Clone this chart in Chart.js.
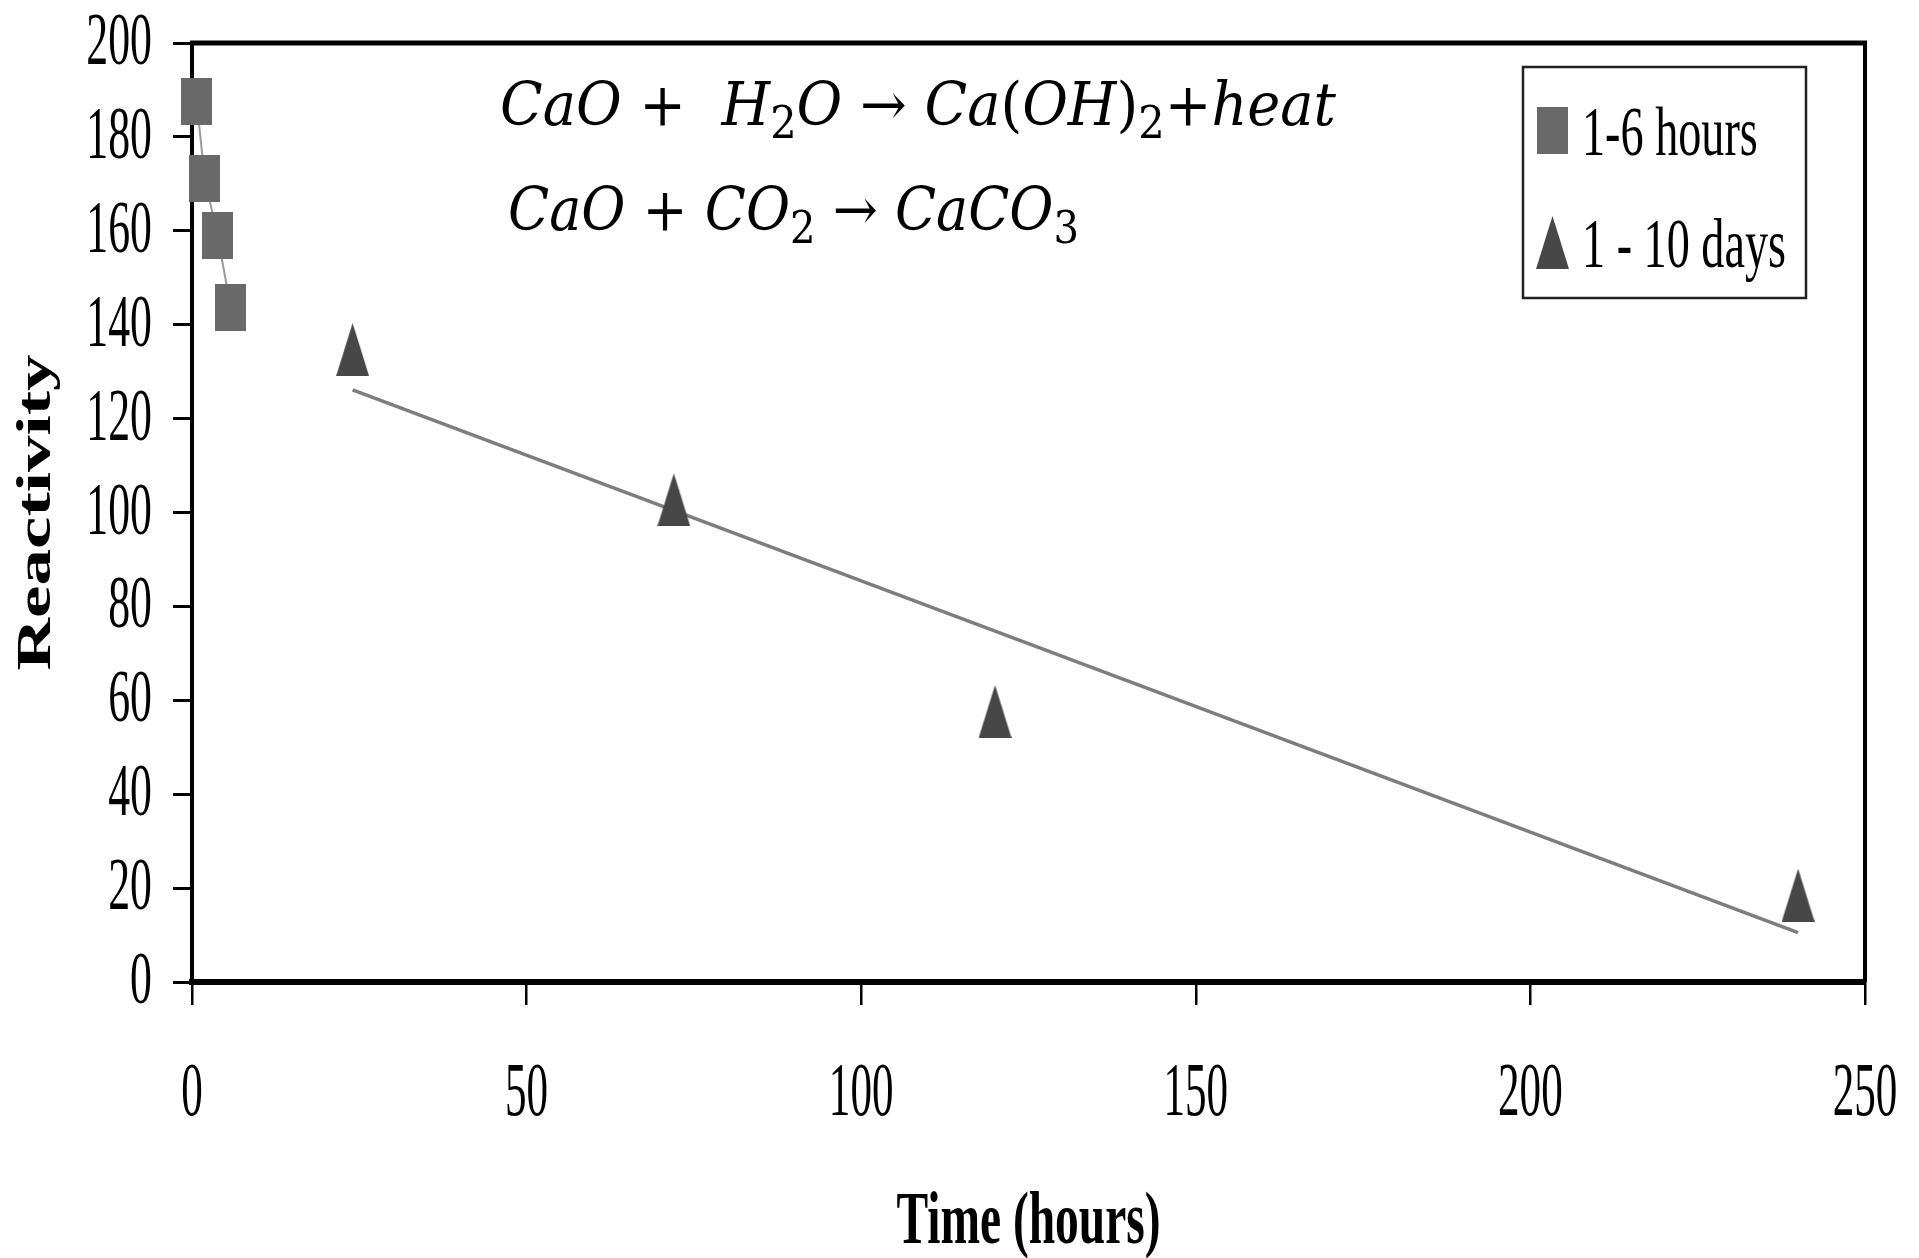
<!DOCTYPE html>
<html lang="en">
<head>
    <meta charset="UTF-8">
    <title>Reactivity vs time</title>
    <script src="https://cdn.jsdelivr.net/npm/chart.js"></script>
    <style>
        body {
            margin: 0;
            background: #fff;
        }

        .chart-box {
            position: relative;
            width: 1919px;
            height: 1258px;
        }
    </style>
</head>
<body>
    <div class="chart-box">
        <canvas id="chart"></canvas>
    </div>

    <script>
        // values
        const hoursX = [0.7, 1.9, 3.8, 5.8];
        const hoursY = [187.5, 171.2, 159.1, 143.6];
        const daysX = [24, 72, 120, 240];
        const daysY = [134.7, 102.7, 57.6, 18.5];
        const trendX = [24, 240];
        const trendY = [126.1, 10.5];
        const xTicks = [0, 50, 100, 150, 200, 250];
        const yTicks = [0, 20, 40, 60, 80, 100, 120, 140, 160, 180, 200];
        const seriesLabels = ['1-6 hours', '1 - 10 days'];
        const xTitle = 'Time (hours)';
        const yTitle = 'Reactivity';

        const serif = '"Liberation Serif", "Times New Roman", serif';
        const mathFont = '"DejaVu Serif", serif';

        function makeMarker(w, h, color, shape) {
            const c = document.createElement('canvas');
            c.width = w;
            c.height = h;
            const g = c.getContext('2d');
            g.fillStyle = color;
            if (shape === 'rect') {
                g.fillRect(0, 0, w, h);
            } else {
                g.beginPath();
                g.moveTo(w / 2, 0);
                g.lineTo(w, h);
                g.lineTo(0, h);
                g.closePath();
                g.fill();
            }
            return c;
        }

        const squareMark = makeMarker(31, 47, '#696969', 'rect');
        const triangleMark = makeMarker(33, 53, '#474747', 'tri');

        // text squeezed sideways like the scanned figure
        function squeezedText(ctx, text, x, y, size, sx, bold, align) {
            ctx.save();
            ctx.font = (bold ? 'bold ' : '') + size + 'px ' + serif;
            ctx.fillStyle = '#000';
            ctx.textAlign = align || 'left';
            ctx.textBaseline = 'alphabetic';
            ctx.translate(x, y);
            ctx.scale(sx, 1);
            ctx.fillText(text, 0, 0);
            ctx.restore();
        }

        // equation with italic letters and subscripts, fitted to a width
        function drawEquation(ctx, parts, x, y, width) {
            const size = 59;
            const subSize = 44;
            const fontOf = p => (p.it ? 'italic ' : '') + (p.sub ? subSize : size) + 'px ' + mathFont;
            let total = 0;
            parts.forEach(p => {
                ctx.font = fontOf(p);
                total += ctx.measureText(p.t).width;
            });
            ctx.save();
            ctx.translate(x, y);
            ctx.scale(width / total, 1);
            ctx.fillStyle = '#000';
            ctx.textBaseline = 'alphabetic';
            ctx.textAlign = 'left';
            let cx = 0;
            parts.forEach(p => {
                ctx.font = fontOf(p);
                ctx.fillText(p.t, cx, p.sub ? 13 : 0);
                cx += ctx.measureText(p.t).width;
            });
            ctx.restore();
        }

        const eq1 = [
            { t: 'CaO', it: true }, { t: ' +  ' }, { t: 'H', it: true }, { t: '2', sub: true },
            { t: 'O', it: true }, { t: ' \u2192 ' }, { t: 'Ca', it: true }, { t: '(' },
            { t: 'OH', it: true }, { t: ')' }, { t: '2', sub: true }, { t: '+' }, { t: 'heat', it: true }
        ];
        const eq2 = [
            { t: 'CaO', it: true }, { t: ' + ' }, { t: 'CO', it: true }, { t: '2', sub: true },
            { t: ' \u2192 ' }, { t: 'CaCO', it: true }, { t: '3', sub: true }
        ];

        const framePlugin = {
            id: 'frame',
            beforeDatasetsDraw(chart) {
                const { ctx, chartArea: a } = chart;
                ctx.save();
                ctx.strokeStyle = '#000';
                ctx.lineWidth = 5;
                ctx.beginPath();
                ctx.moveTo(a.left - 2, a.top);
                ctx.lineTo(a.right + 2, a.top);
                ctx.stroke();
                ctx.lineWidth = 4;
                ctx.beginPath();
                ctx.moveTo(a.right, a.top);
                ctx.lineTo(a.right, a.bottom);
                ctx.stroke();
                ctx.restore();
            }
        };

        const textPlugin = {
            id: 'texts',
            afterDraw(chart) {
                const { ctx, chartArea: a, scales } = chart;
                scales.y.ticks.forEach(t => {
                    squeezedText(ctx, String(t.value), a.left - 40, scales.y.getPixelForValue(t.value) + 21, 73, 0.6, false, 'right');
                });
                scales.x.ticks.forEach(t => {
                    squeezedText(ctx, String(t.value), scales.x.getPixelForValue(t.value), 1115, 77, 0.56, false, 'center');
                });
                squeezedText(ctx, xTitle, (a.left + a.right) / 2, 1243, 73, 0.65, true, 'center');

                ctx.save();
                ctx.translate(34, (a.top + a.bottom) / 2);
                ctx.rotate(-Math.PI / 2);
                ctx.scale(1, 0.66);
                ctx.font = 'bold 73px ' + serif;
                ctx.fillStyle = '#000';
                ctx.textAlign = 'center';
                ctx.fillText(yTitle, 0, 24);
                ctx.restore();

                // legend
                ctx.save();
                ctx.strokeStyle = '#222';
                ctx.lineWidth = 2.5;
                ctx.strokeRect(1523, 67, 283, 231);
                ctx.drawImage(squareMark, 1537, 107);
                ctx.drawImage(triangleMark, 1536, 216);
                ctx.restore();
                squeezedText(ctx, chart.data.datasets[0].label, 1582, 155, 70, 0.66, false, 'left');
                squeezedText(ctx, chart.data.datasets[1].label, 1582, 267, 70, 0.66, false, 'left');

                drawEquation(ctx, eq1, 500, 125, 836);
                drawEquation(ctx, eq2, 508, 230, 571);
            }
        };

        const ctx = document.getElementById('chart').getContext('2d');
        new Chart(ctx, {
            type: 'scatter',
            data: {
                datasets: [{
                    label: seriesLabels[0],
                    data: hoursX.map((x, i) => ({ x, y: hoursY[i] })),
                    showLine: true,
                    borderColor: '#9a9a9a',
                    borderWidth: 2,
                    pointStyle: squareMark,
                    clip: false
                }, {
                    label: seriesLabels[1],
                    data: daysX.map((x, i) => ({ x, y: daysY[i] })),
                    pointStyle: triangleMark,
                    clip: false
                }, {
                    label: 'trend',
                    data: trendX.map((x, i) => ({ x, y: trendY[i] })),
                    showLine: true,
                    borderColor: '#7d7d7d',
                    borderWidth: 3.5,
                    pointRadius: 0
                }]
            },
            options: {
                responsive: true,
                maintainAspectRatio: false,
                animation: false,
                layout: {
                    padding: { left: 173, top: 43, right: 54, bottom: 253 }
                },
                plugins: {
                    legend: { display: false },
                    tooltip: { enabled: false }
                },
                scales: {
                    x: {
                        type: 'linear',
                        min: 0,
                        max: 250,
                        afterBuildTicks: s => { s.ticks = xTicks.map(v => ({ value: v })); },
                        ticks: { display: false },
                        grid: { drawOnChartArea: false, drawTicks: true, tickLength: 23, color: '#000', lineWidth: 2.5 },
                        border: { display: true, color: '#000', width: 6 }
                    },
                    y: {
                        type: 'linear',
                        min: 0,
                        max: 200,
                        afterBuildTicks: s => { s.ticks = yTicks.map(v => ({ value: v })); },
                        ticks: { display: false },
                        grid: { drawOnChartArea: false, drawTicks: true, tickLength: 19, color: '#000', lineWidth: 3 },
                        border: { display: true, color: '#000', width: 4 }
                    }
                }
            },
            plugins: [framePlugin, textPlugin]
        });
    </script>
</body>
</html>
